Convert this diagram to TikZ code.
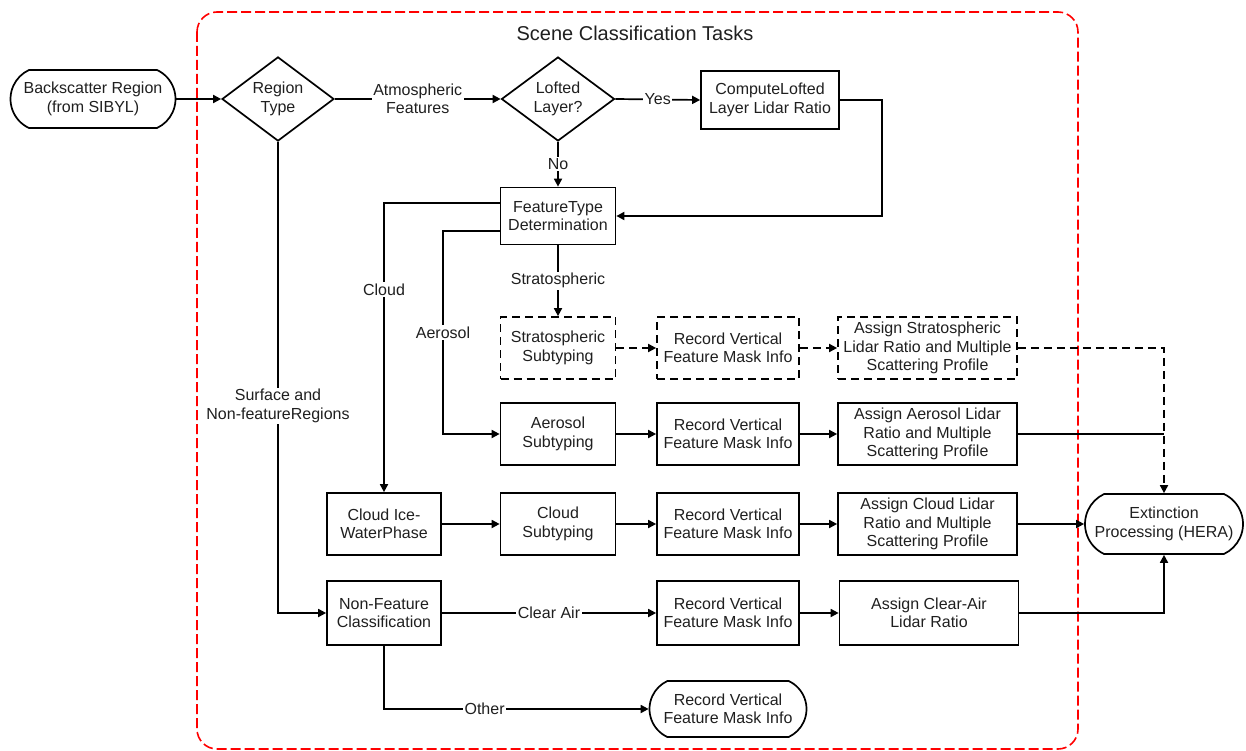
\documentclass[tikz,border=0pt]{standalone}
\usepackage{fontspec}
\setmainfont{Liberation Sans}
\usetikzlibrary{shapes.geometric,shapes.misc,arrows.meta}
\begin{document}
\begin{tikzpicture}[x=1pt,y=-1pt,
  every node/.style={font=\fontsize{16}{18.5}\selectfont, text=black!88},
  base/.style={draw, line width=1.7pt, align=center, inner sep=0pt},
  box/.style={base, rectangle, minimum width=115pt, minimum height=62pt},
  wbox/.style={box, minimum width=142pt},
  abox/.style={box, minimum width=179pt},
  dbox/.style={dash pattern=on 8pt off 5pt},
  term/.style={base, rounded rectangle, rounded rectangle arc length=130, minimum height=58pt},
  dia/.style={base, diamond, minimum width=112pt, minimum height=82pt},
  conn/.style={line width=1.7pt},
  arr/.style={conn, -{Triangle[length=8pt,width=8pt]}},
  lbl/.style={fill=white, inner sep=1.5pt, align=center}
]
\useasboundingbox (0,0) rectangle (1246,751);
% frame
\draw[red, line width=1.6pt, dash pattern=on 10pt off 4pt, rounded corners=20pt] (197,12) rectangle (1078,749);
\node[font=\fontsize{20}{24}\selectfont] (title) at (635,33) {Scene Classification Tasks};

% nodes
\node[term, minimum width=165pt] (bs) at (93,99) {Backscatter Region\\(from SIBYL)};
\node[dia] (rt) at (278,99) {Region\\Type};
\node[dia, minimum width=113pt, minimum height=84pt] (ll) at (558,99) {Lofted\\Layer?};
\node[box, minimum width=138pt, minimum height=58pt] (cl) at (770,100) {ComputeLofted\\Layer Lidar Ratio};
\node[box, minimum height=57pt] (ft) at (558,216) {FeatureType\\Determination};

\node[box, dbox] (ss) at (558,348) {Stratospheric\\Subtyping};
\node[wbox, dbox] (rv1) at (728,348) {Record Vertical\\Feature Mask Info};
\node[abox, dbox] (as1) at (927.5,348) {Assign Stratospheric\\Lidar Ratio and Multiple\\Scattering Profile};

\node[box] (asub) at (558,434) {Aerosol\\Subtyping};
\node[wbox] (rv2) at (728,434) {Record Vertical\\Feature Mask Info};
\node[abox] (aa) at (927.5,434) {Assign Aerosol Lidar\\Ratio and Multiple\\Scattering Profile};

\node[box, minimum width=114pt] (ci) at (384,524) {Cloud Ice-\\WaterPhase};
\node[box] (cs) at (558,524) {Cloud\\Subtyping};
\node[wbox] (rv3) at (728,524) {Record Vertical\\Feature Mask Info};
\node[abox] (ac) at (927.5,524) {Assign Cloud Lidar\\Ratio and Multiple\\Scattering Profile};

\node[term, minimum width=158pt, minimum height=60pt] (ext) at (1164,524) {Extinction\\Processing (HERA)};

\node[box, minimum width=114pt, minimum height=64pt] (nf) at (384,613) {Non-Feature\\Classification};
\node[wbox, minimum height=64pt] (rv4) at (728,613) {Record Vertical\\Feature Mask Info};
\node[abox, minimum height=64pt] (ca) at (929,613) {Assign Clear-Air\\Lidar Ratio};

\node[term, minimum width=157pt, minimum height=56pt] (rv5) at (728,709) {Record Vertical\\Feature Mask Info};

% connectors
\draw[arr] (bs.east) -- (rt.west);
\draw[arr] (rt.east) -- node[lbl] {Atmospheric\\Features} (ll.west);
\draw[arr] (ll.east) -- node[lbl] {Yes} (cl.west);
\draw[arr] (ll.south) -- node[lbl] {No} (ft.north);
\draw[arr] (cl.east) -- ++(42,0) |- (ft.east);

\draw[arr] ([yshift=13pt]ft.west) -| node[lbl, pos=0.65] {Cloud} (ci.north);
\coordinate (xa) at (443,434);
\draw[arr] ([yshift=-15pt]ft.west) -| node[lbl, pos=0.75] {Aerosol} (xa) -- (asub.west);
\draw[arr] (ft.south) -- node[lbl] {Stratospheric} (ss.north);

\draw[arr, dbox] (ss.east) -- (rv1.west);
\draw[arr, dbox] (rv1.east) -- (as1.west);
\draw[arr, dbox] (as1.east) -| (ext.north);

\draw[arr] (asub.east) -- (rv2.west);
\draw[arr] (rv2.east) -- (aa.west);
\draw[conn] (aa.east) -- (ext.north |- aa.east);

\draw[arr] (ci.east) -- (cs.west);
\draw[arr] (cs.east) -- (rv3.west);
\draw[arr] (rv3.east) -- (ac.west);
\draw[arr] (ac.east) -- (ext.west);

\draw[arr] (rt.south) |- node[lbl, pos=0.28] {Surface and\\Non-featureRegions} (nf.west);
\draw[arr] (nf.east) -- node[lbl] {Clear Air} (rv4.west);
\draw[arr] (rv4.east) -- (ca.west);
\draw[arr] (ca.east) -| (ext.south);
\draw[arr] (nf.south) |- node[lbl, pos=0.69] {Other} (rv5.west);
\end{tikzpicture}
\end{document}
